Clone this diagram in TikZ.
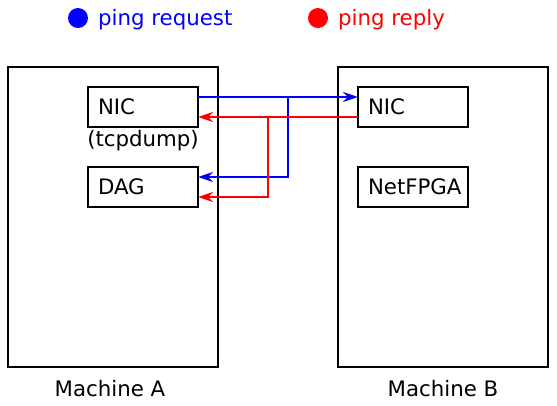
\documentclass[tikz,border=0pt]{standalone}
\usepackage{fontspec}
\setmainfont{DejaVu Sans}
\usetikzlibrary{arrows.meta}
\begin{document}
\begin{tikzpicture}[x=1pt,y=-1pt,
  font=\fontsize{21.3}{25}\selectfont,
  machine/.style={draw, line width=2.3pt, outer sep=0pt, minimum width=210pt, minimum height=300pt, inner sep=0pt},
  card/.style={draw, line width=2.3pt, outer sep=0pt, minimum height=40pt, text width=90pt, inner xsep=10pt, inner ysep=0pt, align=left},
  lbl/.style={inner sep=0pt},
  req/.style={blue, line width=2.3pt, -{Stealth[length=15pt,width=10pt,inset=5pt]}},
  rep/.style={red, line width=2.3pt, -{Stealth[length=15pt,width=10pt,inset=5pt]}},
  dot/.style={circle, fill, inner sep=0pt, minimum size=20pt}]
\useasboundingbox (0,0) rectangle (557,405);
% legend
\node[dot, blue] (dreq) at (78,18) {};
\node[lbl, blue, anchor=west] (treq) at (98,20) {ping request};
\node[dot, red] (drep) at (318,18) {};
\node[lbl, red, anchor=west] (trep) at (338,20) {ping reply};
% machines
\node[machine] (ma) at (113,217) {};
\node[machine] (mb) at (443,217) {};
\node[lbl] (la) at (110,389) {Machine A};
\node[lbl] (lb) at (443,389) {Machine B};
% cards
\node[card] (nica) at (143,107) {NIC};
\node[lbl] (tcp) at (143,141) {(tcpdump)};
\node[card] (dag) at (143,187) {DAG};
\node[card] (nicb) at (413,107) {NIC};
\node[card] (fpga) at (413,187) {NetFPGA};
% connectors
\coordinate (bq) at (288,97);
\coordinate (bp) at (268,117);
\draw[req] ([yshift=10pt]nica.east) -- ([yshift=10pt]nicb.west);
\draw[req] (bq) |- ([yshift=10pt]dag.east);
\draw[rep] ([yshift=-10pt]nicb.west) -- ([yshift=-10pt]nica.east);
\draw[rep] (bp) |- ([yshift=-10pt]dag.east);
\end{tikzpicture}
\end{document}
